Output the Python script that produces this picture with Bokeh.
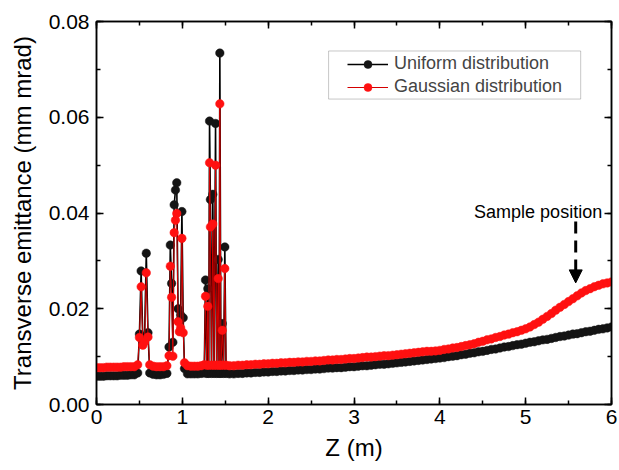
from bokeh.plotting import figure
from bokeh.models import (Range1d, LinearAxis, SingleIntervalTicker, PrintfTickFormatter,
                          Legend, LegendItem, Arrow, NormalHead, Label, BoxAnnotation)
from bokeh.embed import file_html
from bokeh.resources import INLINE

# ---------------- data ----------------
z_flat_a = [0.00, 0.04, 0.08, 0.12, 0.16, 0.20, 0.24, 0.28, 0.32, 0.36, 0.40, 0.44]
uni_flat_a = [0.0059, 0.0059, 0.0059, 0.0060, 0.0060, 0.0060, 0.0060, 0.0061, 0.0061, 0.0061, 0.0062, 0.0062]
gau_flat_a = [0.0077, 0.0077, 0.0077, 0.0078, 0.0078, 0.0078, 0.0078, 0.0078, 0.0079, 0.0079, 0.0079, 0.0079]

z_peak1 = [0.48, 0.50, 0.52, 0.54, 0.56, 0.58, 0.60, 0.62]
uni_peak1 = [0.0066, 0.0147, 0.0279, 0.0133, 0.0140, 0.0316, 0.0150, 0.0066]
gau_peak1 = [0.0083, 0.0140, 0.0246, 0.0124, 0.0131, 0.0275, 0.0141, 0.0083]

z_flat_b = [0.66, 0.70, 0.74, 0.78, 0.82]
uni_flat_b = [0.0063, 0.0062, 0.0062, 0.0063, 0.0065]
gau_flat_b = [0.0080, 0.0079, 0.0079, 0.0079, 0.0081]

z_peak2 = [0.845, 0.86, 0.875, 0.89, 0.905, 0.92, 0.935, 0.95, 0.965, 0.98, 0.995, 1.01, 1.025]
uni_peak2 = [0.0120, 0.0333, 0.0253, 0.0130, 0.0417, 0.0448, 0.0463, 0.0200, 0.0175, 0.0187, 0.0403, 0.0181, 0.0075]
gau_peak2 = [0.0102, 0.0289, 0.0224, 0.0101, 0.0359, 0.0385, 0.0399, 0.0173, 0.0152, 0.0160, 0.0347, 0.0150, 0.0087]

z_flat_c = [1.06, 1.10, 1.14, 1.18, 1.22]
uni_flat_c = [0.0064, 0.0064, 0.0064, 0.0064, 0.0065]
gau_flat_c = [0.0081, 0.0080, 0.0080, 0.0080, 0.0081]

z_peak3 = [1.255, 1.270, 1.285, 1.297, 1.307, 1.317, 1.327, 1.340, 1.355, 1.370,
           1.387, 1.400, 1.418, 1.428, 1.437, 1.450, 1.465, 1.480, 1.495, 1.510]
uni_peak3 = [0.0066, 0.0260, 0.0065, 0.0242, 0.0065, 0.0592, 0.0428, 0.0065, 0.0439, 0.0065,
             0.0587, 0.0065, 0.0303, 0.0065, 0.0734, 0.0065, 0.0169, 0.0065, 0.0329, 0.0065]
gau_peak3 = [0.0083, 0.0226, 0.0082, 0.0205, 0.0082, 0.0505, 0.0371, 0.0082, 0.0377, 0.0082,
             0.0500, 0.0082, 0.0263, 0.0082, 0.0628, 0.0082, 0.0155, 0.0082, 0.0284, 0.0082]

z_tail = [1.55, 1.60, 1.65, 1.70, 1.75, 1.80, 1.85, 1.90, 1.95, 2.00,
          2.05, 2.10, 2.15, 2.20, 2.25, 2.30, 2.35, 2.40, 2.45, 2.50,
          2.55, 2.60, 2.65, 2.70, 2.75, 2.80, 2.85, 2.90, 2.95, 3.00,
          3.05, 3.10, 3.15, 3.20, 3.25, 3.30, 3.35, 3.40, 3.45, 3.50,
          3.55, 3.60, 3.65, 3.70, 3.75, 3.80, 3.85, 3.90, 3.95, 4.00,
          4.05, 4.10, 4.15, 4.20, 4.25, 4.30, 4.35, 4.40, 4.45, 4.50,
          4.55, 4.60, 4.65, 4.70, 4.75, 4.80, 4.85, 4.90, 4.95, 5.00,
          5.05, 5.10, 5.15, 5.20, 5.25, 5.30, 5.35, 5.40, 5.45, 5.50,
          5.55, 5.60, 5.65, 5.70, 5.75, 5.80, 5.85, 5.90, 5.95, 6.00]
uni_tail = [0.0064, 0.0064, 0.0065, 0.0065, 0.0066, 0.0066, 0.0067, 0.0067, 0.0068, 0.0068,
            0.0069, 0.0069, 0.0070, 0.0070, 0.0071, 0.0071, 0.0072, 0.0072, 0.0073, 0.0073,
            0.0074, 0.0074, 0.0075, 0.0076, 0.0076, 0.0077, 0.0077, 0.0078, 0.0079, 0.0079,
            0.0080, 0.0081, 0.0081, 0.0082, 0.0083, 0.0084, 0.0084, 0.0085, 0.0086, 0.0087,
            0.0088, 0.0089, 0.0090, 0.0091, 0.0092, 0.0093, 0.0094, 0.0095, 0.0096, 0.0097,
            0.0098, 0.0100, 0.0101, 0.0102, 0.0104, 0.0105, 0.0107, 0.0108, 0.0110, 0.0111,
            0.0113, 0.0115, 0.0116, 0.0118, 0.0120, 0.0121, 0.0123, 0.0125, 0.0126, 0.0128,
            0.0130, 0.0131, 0.0133, 0.0135, 0.0136, 0.0138, 0.0140, 0.0142, 0.0143, 0.0145,
            0.0147, 0.0148, 0.0150, 0.0152, 0.0153, 0.0155, 0.0157, 0.0158, 0.0160, 0.0162]
gau_tail = [0.0081, 0.0081, 0.0082, 0.0082, 0.0083, 0.0083, 0.0084, 0.0084, 0.0085, 0.0085,
            0.0086, 0.0086, 0.0087, 0.0087, 0.0088, 0.0088, 0.0089, 0.0089, 0.0090, 0.0090,
            0.0091, 0.0091, 0.0092, 0.0093, 0.0093, 0.0094, 0.0094, 0.0095, 0.0096, 0.0096,
            0.0097, 0.0098, 0.0099, 0.0099, 0.0100, 0.0101, 0.0102, 0.0102, 0.0103, 0.0104,
            0.0105, 0.0106, 0.0107, 0.0108, 0.0109, 0.0110, 0.0111, 0.0111, 0.0112, 0.0113,
            0.0115, 0.0116, 0.0118, 0.0119, 0.0121, 0.0123, 0.0125, 0.0127, 0.0130, 0.0132,
            0.0135, 0.0137, 0.0140, 0.0142, 0.0145, 0.0147, 0.0150, 0.0152, 0.0155, 0.0158,
            0.0162, 0.0167, 0.0172, 0.0178, 0.0184, 0.0190, 0.0197, 0.0203, 0.0209, 0.0215,
            0.0221, 0.0227, 0.0233, 0.0238, 0.0242, 0.0246, 0.0249, 0.0252, 0.0254, 0.0256]

series_names = ["Uniform distribution", "Gaussian distribution"]
annotation_text = "Sample position"
sample_z = 5.583
arrow_top = 0.0382
arrow_tip = 0.0254

z = z_flat_a + z_peak1 + z_flat_b + z_peak2 + z_flat_c + z_peak3 + z_tail
uniform = uni_flat_a + uni_peak1 + uni_flat_b + uni_peak2 + uni_flat_c + uni_peak3 + uni_tail
gaussian = gau_flat_a + gau_peak1 + gau_flat_b + gau_peak2 + gau_flat_c + gau_peak3 + gau_tail

FONT = "Liberation Sans"

p = figure(width=619, height=470, output_backend="svg", toolbar_location=None,
           x_range=Range1d(0, 6), y_range=Range1d(0, 0.08),
           min_border_left=96, min_border_right=8, min_border_top=21, min_border_bottom=66,
           x_axis_label="Z (m)", y_axis_label="Transverse emittance (mm mrad)")
p.xgrid.visible = False
p.ygrid.visible = False
p.outline_line_color = "black"
p.outline_line_width = 1.5
p.background_fill_color = "white"
p.border_fill_color = "white"

p.xaxis.ticker = SingleIntervalTicker(interval=1, num_minor_ticks=2)
p.yaxis.ticker = SingleIntervalTicker(interval=0.02, num_minor_ticks=2)
p.xaxis.formatter = PrintfTickFormatter(format="%d")
p.yaxis.formatter = PrintfTickFormatter(format="%.2f")

for ax in (p.xaxis[0], p.yaxis[0]):
    ax.axis_line_width = 1.5
    ax.major_tick_in = 7
    ax.major_tick_out = 0
    ax.minor_tick_in = 4
    ax.minor_tick_out = 0
    ax.major_tick_line_width = 1.5
    ax.minor_tick_line_width = 1.5
    ax.major_label_text_font = FONT
    ax.major_label_text_font_size = "21px"
    ax.major_label_text_color = "black"
    ax.axis_label_text_font = FONT
    ax.axis_label_text_font_size = "24px"
    ax.axis_label_text_font_style = "normal"
    ax.axis_label_text_color = "black"

p.xaxis.major_label_standoff = 5
p.xaxis.axis_label_standoff = 7
p.yaxis.major_label_standoff = 7
p.yaxis.axis_label_standoff = 10

# mirrored axes (ticks only, no labels)
for loc, tick in (("right", SingleIntervalTicker(interval=0.02, num_minor_ticks=2)),
                  ("above", SingleIntervalTicker(interval=1, num_minor_ticks=2))):
    ax = LinearAxis(ticker=tick, formatter=PrintfTickFormatter(format=""),
                    axis_line_width=1.5, major_tick_in=7, major_tick_out=0,
                    minor_tick_in=4, minor_tick_out=0,
                    major_tick_line_width=1.5, minor_tick_line_width=1.5,
                    major_label_standoff=0)
    p.add_layout(ax, loc)

# series
l1 = p.line(z, uniform, line_color="black", line_width=1.6)
s1 = p.scatter(z, uniform, size=8.5, fill_color="#141414", line_color="#141414", line_width=0.5)
l2 = p.line(z, gaussian, line_color="#d40000", line_width=1.0)
s2 = p.scatter(z, gaussian, size=8.5, fill_color="#ff1010", line_color="#ff1010", line_width=0.5)

# legend frame + legend
box = BoxAnnotation(left=2.704, right=5.641, bottom=0.0638, top=0.07384,
                    fill_alpha=0, line_color="#444444", line_width=1)
p.add_layout(box)
legend = Legend(items=[LegendItem(label=series_names[0], renderers=[l1, s1]),
                       LegendItem(label=series_names[1], renderers=[l2, s2])],
                location=(251, 307), padding=0, margin=0, spacing=2,
                glyph_width=41, glyph_height=20, label_height=20, label_standoff=6,
                label_text_font=FONT, label_text_font_size="18px",
                border_line_alpha=0, background_fill_alpha=0)
p.add_layout(legend)

# annotation
arrow = Arrow(x_start=sample_z, y_start=arrow_top, x_end=sample_z, y_end=arrow_tip,
              line_color="black", line_width=3, line_dash="12 7",
              end=NormalHead(size=13, fill_color="black", line_color="black", line_width=1))
p.add_layout(arrow)
lab = Label(x=5.145, y=0.0403, text=annotation_text, text_font=FONT, text_font_size="18px",
            text_align="center", text_baseline="alphabetic", text_color="black")
p.add_layout(lab)

open("out.html", "w").write(file_html(p, INLINE))
